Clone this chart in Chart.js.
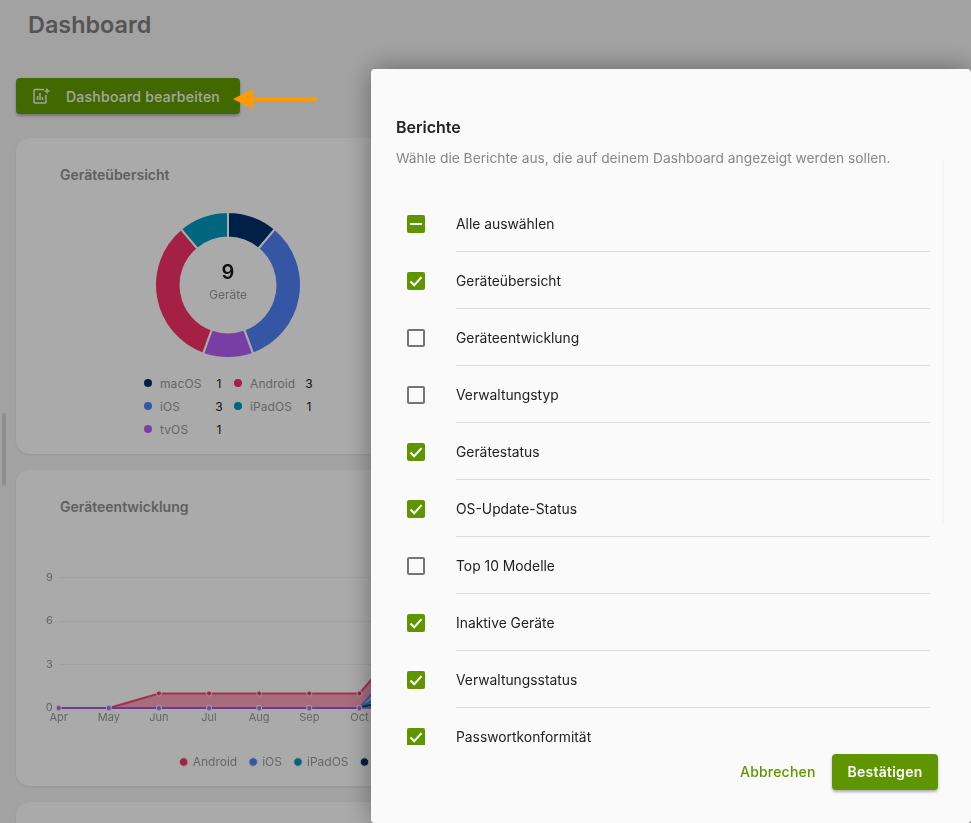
<!DOCTYPE html>
<html lang="de">
<head>
<meta charset="utf-8">
<title>Dashboard</title>
<script src="https://cdn.jsdelivr.net/npm/chart.js@4/dist/chart.umd.min.js"></script>
<style>
html, body { margin: 0; padding: 0; width: 971px; height: 823px; overflow: hidden; background: #e9e9e9; font-family: Inter, sans-serif; }
.abs { position: absolute; white-space: nowrap; }
.card { position: absolute; left: 16px; width: 930px; background: #f4f4f4; border-radius: 14px; box-shadow: 0 1px 3px rgba(0,0,0,.08); }
.cardTitle { position: absolute; left: 60px; font-size: 14px; font-weight: 600; color: #8a8a8a; line-height: 18px; white-space: nowrap; }
#overlay { position: absolute; left: 0; top: 0; width: 971px; height: 823px; background: rgba(0,0,0,.3); }
#editBtn { left: 16px; top: 78px; width: 224px; height: 36px; background: #5f9600; border-radius: 4px; box-shadow: 0 2px 3px rgba(0,0,0,.3); }
#modal { position: absolute; left: 372px; top: 69px; width: 599px; height: 754px; background: #fafafa; border-radius: 4px; box-shadow: -1px 0 0 #fafafa, 0 0 28px rgba(0,0,0,.4); }
#list { position: absolute; left: 0; top: 127px; width: 599px; height: 549px; overflow: hidden; }
.row { position: absolute; left: 0; width: 599px; height: 57px; }
.row span { position: absolute; left: 84px; top: 19px; font-size: 13.85px; line-height: 18px; color: #222; white-space: nowrap; }
.row i { position: absolute; left: 84px; right: 41px; top: 55px; height: 1px; background: #dcdcdc; }
.box { position: absolute; left: 35px; top: 19px; width: 18px; height: 18px; box-sizing: border-box; border-radius: 2px; }
.box.off { border: 2px solid #757575; }
.box.on { background: #5f9600; }
.box svg { display: block; }
.lg { position: absolute; font-size: 12px; line-height: 16px; color: #929292; white-space: nowrap; letter-spacing: .1px; }
.val { position: absolute; font-size: 12px; line-height: 16px; color: #181818; width: 14px; text-align: center; }
.dot { position: absolute; width: 8px; height: 8px; border-radius: 50%; }
</style>
</head>
<body>
<div class="abs" style="left:28px;top:10px;font-size:23.4px;font-weight:600;color:#7a7a7a;line-height:30px">Dashboard</div>
<div class="abs" id="editBtn">
  <svg style="position:absolute;left:17px;top:10px" width="17" height="16" viewBox="0 0 17 16" fill="none" stroke="#e8e8e8" stroke-width="1.5">
    <path d="M11 1.5H2a1 1 0 0 0-1 1V14a1 1 0 0 0 1 1h10a1 1 0 0 0 1-1V7"/>
    <path d="M4.5 12V8M7 12V5M9.5 12V9M14 0.5v5M11.5 3h5"/>
  </svg>
  <span style="position:absolute;left:50px;top:10px;font-size:14px;font-weight:500;line-height:18px;color:#eee;letter-spacing:.25px">Dashboard bearbeiten</span>
</div>

<div class="card" style="top:138px;height:316px">
  <div class="cardTitle" style="left:44px;top:28px">Geräteübersicht</div>
</div>
<div class="card" style="top:470px;height:316px">
  <div class="cardTitle" style="left:44px;top:28px">Geräteentwicklung</div>
</div>
<div class="card" style="top:802px;height:316px"></div>

<canvas id="donut" class="abs" style="left:154px;top:211px;width:148px;height:148px"></canvas>
<div class="abs" style="left:188px;width:80px;text-align:center;top:260px;font-size:20px;font-weight:600;line-height:24px;color:#181818">9</div>
<div class="abs" style="left:188px;width:80px;text-align:center;top:287px;font-size:12px;line-height:16px;color:#929292">Geräte</div>
<div id="donutLegend"></div>

<canvas id="trend" class="abs" style="left:30px;top:565px;width:603px;height:216px"></canvas>

<div class="abs" style="left:2px;top:413px;width:4px;height:73px;border-radius:2px;background:#ccc"></div>

<div id="overlay"></div>

<svg class="abs" style="left:230px;top:87px" width="90" height="24">
  <path d="M3 12 L23 2 V10 H87 V14 H23 V22 Z" fill="#ff9a00"/>
</svg>

<div id="modal">
  <div class="abs" style="left:24px;top:48px;font-size:16px;font-weight:600;line-height:20px;color:#222">Berichte</div>
  <div class="abs" style="left:24px;top:80px;font-size:13.78px;line-height:18px;color:#888">Wähle die Berichte aus, die auf deinem Dashboard angezeigt werden sollen.</div>
  <div class="abs" style="left:570px;top:91px;width:2px;height:365px;background:#f4f4f4"></div>
  <div id="list"></div>
  <div class="abs" style="left:368px;top:694px;font-size:14px;font-weight:500;line-height:18px;color:#5f9600;letter-spacing:.2px">Abbrechen</div>
  <div class="abs" style="left:460px;top:685px;width:106px;height:36px;border-radius:4px;background:#5f9600;color:#fff;font-size:14px;font-weight:600;line-height:36px;text-align:center;letter-spacing:.25px;box-shadow:0 2px 3px rgba(0,0,0,.3)">Bestätigen</div>
</div>

<script>
// doughnut data
var deviceLabels = ["macOS", "iOS", "tvOS", "Android", "iPadOS"];
var deviceCounts = [1, 3, 1, 3, 1];
var deviceColors = ["#002e67", "#4c7bec", "#ae5aec", "#ec2e63", "#0092b7"];

// stacked line data, Nov onwards sits behind the dialog
var months = ["Apr", "May", "Jun", "Jul", "Aug", "Sep", "Oct", "Nov", "Dec", "Jan", "Feb", "Mar"];
var androidValues = [0, 0, 1, 1, 1, 1, 1, 1, 2, 3, 3, 3];
var iosValues = [0, 0, 0, 0, 0, 0, 0, 2, 2, 3, 3, 3];
var ipadValues = [0, 0, 0, 0, 0, 0, 0, 1, 1, 1, 1, 1];
var macValues = [0, 0, 0, 0, 0, 0, 0, 1, 1, 1, 1, 1];
var tvValues = [0, 0, 0, 0, 0, 0, 0, 0, 1, 1, 1, 1];
var yTicks = [0, 3, 6, 9];

// dialog rows
var reportNames = ["Alle auswählen", "Geräteübersicht", "Geräteentwicklung", "Verwaltungstyp", "Gerätestatus", "OS-Update-Status", "Top 10 Modelle", "Inaktive Geräte", "Verwaltungsstatus", "Passwortkonformität"];
var reportStates = ["mixed", "on", "off", "off", "on", "on", "off", "on", "on", "on"];

var checkSvg = '<svg width="18" height="18" viewBox="0 0 18 18"><path d="M3.5 9.5l3.7 3.7 7.3-8" fill="none" stroke="#fff" stroke-width="2"/></svg>';
var dashSvg = '<svg width="18" height="18" viewBox="0 0 18 18"><path d="M3 9h12" fill="none" stroke="#fff" stroke-width="2"/></svg>';

var list = document.getElementById("list");
reportNames.forEach(function (name, i) {
    var state = reportStates[i];
    var row = document.createElement("div");
    row.className = "row";
    row.style.top = (i * 57) + "px";
    var inner = state === "on" ? checkSvg : state === "mixed" ? dashSvg : "";
    row.innerHTML = '<div class="box ' + (state === "off" ? "off" : "on") + '">' + inner + '</div><span>' + name + '</span><i></i>';
    list.appendChild(row);
});

// legend under the doughnut, filled by column
var legendBox = document.getElementById("donutLegend");
var legendCells = [[144, 376], [144, 399], [144, 422], [234, 376], [234, 399]];
deviceLabels.forEach(function (name, i) {
    var x = legendCells[i][0], y = legendCells[i][1];
    legendBox.innerHTML += '<div class="dot" style="left:' + x + 'px;top:' + (y + 3) + 'px;background:' + deviceColors[i] + '"></div>' +
        '<div class="lg" style="left:' + (x + 16) + 'px;top:' + y + 'px">' + name + '</div>' +
        '<div class="val" style="left:' + (x + 68) + 'px;top:' + y + 'px">' + deviceCounts[i] + '</div>';
});

Chart.defaults.font.family = "Inter, sans-serif";
Chart.defaults.animation = false;

//doughnut
var ctxD = document.getElementById("donut").getContext("2d");
var donutChart = new Chart(ctxD, {
    type: "doughnut",
    data: {
        labels: deviceLabels,
        datasets: [{
            data: deviceCounts,
            backgroundColor: deviceColors,
            borderColor: "#f4f4f4",
            borderWidth: 2
        }]
    },
    options: {
        responsive: false,
        cutout: "65%",
        plugins: { legend: { display: false }, tooltip: { enabled: false } }
    }
});

function lineSet(label, values, color, fill) {
    return {
        label: label,
        data: values,
        borderColor: color + "d9",
        backgroundColor: color + "73",
        pointBackgroundColor: color,
        pointBorderColor: "#e4e4e4",
        pointBorderWidth: 1,
        pointRadius: 2.5,
        borderWidth: 2,
        tension: 0,
        fill: fill,
        clip: false
    };
}

//stacked line, first dataset is the bottom of the stack
var ctxT = document.getElementById("trend").getContext("2d");
var trendChart = new Chart(ctxT, {
    type: "line",
    data: {
        labels: months,
        datasets: [
            lineSet("tvOS", tvValues, "#ae5aec", "origin"),
            lineSet("macOS", macValues, "#002e67", "-1"),
            lineSet("iPadOS", ipadValues, "#0092b7", "-1"),
            lineSet("iOS", iosValues, "#4c7bec", "-1"),
            lineSet("Android", androidValues, "#ec2e63", "-1")
        ]
    },
    options: {
        responsive: false,
        layout: { padding: { top: 12, left: 8, right: 23, bottom: 3 } },
        plugins: {
            tooltip: { enabled: false },
            legend: {
                position: "bottom",
                reverse: true,
                labels: { usePointStyle: true, pointStyle: "circle", boxWidth: 6, boxHeight: 6, padding: 13, color: "#929292", font: { size: 12 } }
            }
        },
        scales: {
            x: {
                offset: false,
                border: { display: false },
                grid: { display: false, drawTicks: false },
                ticks: { color: "#929292", font: { size: 11 }, padding: 3, autoSkip: false, maxRotation: 0 },
                afterFit: function (scale) { scale.height = 35; }
            },
            y: {
                stacked: true,
                min: 0,
                max: 9,
                border: { display: false },
                grid: { color: "rgba(0,0,0,.05)", drawTicks: false },
                afterBuildTicks: function (scale) { scale.ticks = yTicks.map(function (v) { return { value: v }; }); },
                ticks: { color: "#929292", font: { size: 11 }, padding: 6 },
                afterFit: function (scale) { scale.width = 20.7; }
            }
        }
    }
});
</script>
</body>
</html>
